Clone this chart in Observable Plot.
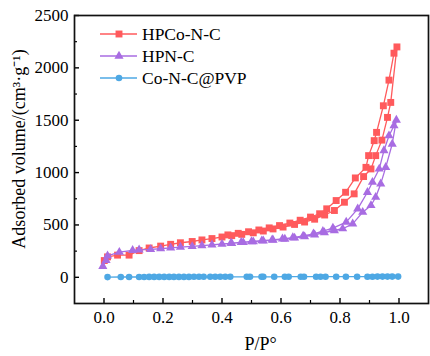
<!DOCTYPE html>
<html>
<head>
<meta charset="utf-8">
<script src="https://cdn.jsdelivr.net/npm/d3@7"></script>
<script src="https://cdn.jsdelivr.net/npm/@observablehq/plot@0.6"></script>
<style>
  html, body { margin: 0; padding: 0; background: #fff; }
  #chart { width: 430px; height: 356px; }
</style>
</head>
<body>
<div id="chart"></div>
<script>
// ---- Data ----
const seriesNames = ["HPCo-N-C", "HPN-C", "Co-N-C@PVP"];
const seriesColors = ["#ff5a5c", "#a86ce2", "#4ea8e4"];
const seriesSymbols = ["square", "triangle", "circle"];

// HPCo-N-C adsorption (ascending) and desorption (descending)
const redAdsX = [0.001,0.012,0.046,0.085,0.119,0.153,0.192,0.226,0.259,0.299,0.332,0.366,0.400,0.433,0.467,0.506,0.540,0.573,0.607,0.646,0.680,0.714,0.748,0.781,0.815,0.848,0.880,0.905,0.921,0.942,0.961,0.972,0.993];
const redAdsY = [160,195,212,212,255,280,298,315,330,342,357,370,385,398,410,425,442,462,480,505,528,555,595,638,717,797,962,1035,1162,1310,1527,1670,2200];
const redDesX = [0.983,0.966,0.947,0.924,0.916,0.897,0.888,0.852,0.819,0.787,0.755,0.731,0.700,0.665,0.630,0.595,0.560,0.525,0.490,0.455,0.420];
const redDesY = [2140,1883,1638,1384,1305,1162,1050,949,812,733,654,607,575,545,518,494,472,452,435,420,405];

// HPN-C adsorption and desorption
const purAdsX = [-0.004,0.007,0.012,0.052,0.097,0.119,0.158,0.192,0.226,0.259,0.299,0.332,0.366,0.400,0.433,0.472,0.506,0.540,0.573,0.613,0.646,0.680,0.714,0.747,0.781,0.809,0.843,0.877,0.905,0.921,0.938,0.955,0.977,0.991];
const purAdsY = [105,162,205,240,258,262,266,273,281,288,295,303,310,318,325,333,340,348,356,365,376,388,405,428,447,464,511,622,686,765,892,1050,1273,1502];
const purDesX = [0.983,0.966,0.949,0.933,0.910,0.893,0.860,0.821,0.776,0.742,0.710,0.675,0.640,0.605,0.570,0.535,0.500,0.465,0.430];
const purDesY = [1448,1352,1210,1035,908,812,654,527,470,440,415,395,380,368,358,350,342,334,326];

// Co-N-C@PVP
const bluX = [0.012,0.057,0.085,0.119,0.136,0.153,0.170,0.187,0.204,0.221,0.237,0.254,0.271,0.288,0.305,0.322,0.338,0.360,0.377,0.394,0.411,0.428,0.484,0.495,0.534,0.540,0.577,0.613,0.626,0.667,0.678,0.719,0.734,0.751,0.787,0.820,0.858,0.893,0.910,0.927,0.944,0.961,0.977,0.997];
const bluY = [2,3,3,3,3,4,4,4,4,4,4,4,4,4,5,5,5,5,5,5,5,5,5,5,5,5,5,6,6,6,6,6,6,6,6,6,6,6,6,7,7,7,7,7];

// Axis ticks
const xTicks = [0.0, 0.2, 0.4, 0.6, 0.8, 1.0];
const xMinor = [0.1, 0.3, 0.5, 0.7, 0.9];
const yTicks = [0, 500, 1000, 1500, 2000, 2500];
const yMinor = [250, 750, 1250, 1750, 2250];
const xLabel = "P/P°";
const yLabel = "Adsorbed volume/(cm³·g⁻¹)";

// ---- Build rows ----
function rowsOf(name, xs, ys, xs2, ys2) {
  const r = xs.map((x, i) => ({series: name, x, y: ys[i]}));
  if (xs2) xs2.forEach((x, i) => r.push({series: name, x, y: ys2[i]}));
  return r;
}
const red = rowsOf(seriesNames[0], redAdsX, redAdsY, redDesX, redDesY);
const pur = rowsOf(seriesNames[1], purAdsX, purAdsY, purDesX, purDesY);
const blu = rowsOf(seriesNames[2], bluX, bluY);

const FONT = '"Liberation Serif", "Times New Roman", serif';

function seriesMarks(data, i, r) {
  return [
    Plot.line(data, {x: "x", y: "y", stroke: seriesColors[i], strokeWidth: 1.3}),
    Plot.dot(data, {x: "x", y: "y", symbol: () => seriesSymbols[i], fill: seriesColors[i], stroke: "none", r})
  ];
}

const chart = Plot.plot({
  width: 430,
  height: 356,
  marginLeft: 74,
  marginRight: 2,
  marginTop: 15,
  marginBottom: 53,
  style: {fontFamily: FONT, background: "#fff", color: "#000", overflow: "visible"},
  x: {domain: [-0.1, 1.1]},
  y: {domain: [-250, 2500]},
  marks: [
    ...seriesMarks(red, 0, 3.9),
    ...seriesMarks(pur, 1, 3.4),
    ...seriesMarks(blu, 2, 3.3),
    Plot.axisX(xTicks, {tickSize: -5, tickPadding: 12.5, tickFormat: d3.format(".1f"), fontSize: 17, label: null, strokeWidth: 1.4}),
    Plot.axisX(xMinor, {tickSize: -3, tickFormat: () => "", label: null, strokeWidth: 1.2}),
    Plot.axisY(yTicks, {tickSize: -5, tickPadding: 11, tickFormat: d => String(d), fontSize: 17, label: null, strokeWidth: 1.4}),
    Plot.axisY(yMinor, {tickSize: -3, tickFormat: () => "", label: null, strokeWidth: 1.2}),
    Plot.frame({stroke: "#111", strokeWidth: 1.7}),
    Plot.text([yLabel], {frameAnchor: "left", rotate: -90, dx: -55, dy: -10.5, textAnchor: "middle", lineAnchor: "middle", fontSize: 18, fill: "#000"}),
    Plot.text([xLabel], {frameAnchor: "bottom", dx: 9, dy: 41, textAnchor: "middle", lineAnchor: "middle", fontSize: 18, fill: "#000"})
  ]
});

document.getElementById("chart").appendChild(chart);

// ---- Legend inside the frame (top-left) ----
const svg = d3.select(chart.tagName.toLowerCase() === "svg" ? chart : chart.querySelector("svg"));
const lg = svg.append("g").attr("font-family", FONT).attr("font-size", 17.5).attr("text-anchor", "start");
const symMap = {square: d3.symbolSquare, triangle: d3.symbolTriangle, circle: d3.symbolCircle};
const sizes = [Math.PI * 3.9 * 3.9, Math.PI * 3.4 * 3.4, Math.PI * 3.3 * 3.3];
seriesNames.forEach((name, i) => {
  const y = 34 + i * 22;
  lg.append("line").attr("x1", 100).attr("x2", 137).attr("y1", y).attr("y2", y)
    .attr("stroke", seriesColors[i]).attr("stroke-width", 1.3);
  lg.append("path").attr("d", d3.symbol(symMap[seriesSymbols[i]], sizes[i])())
    .attr("transform", `translate(119,${y})`).attr("fill", seriesColors[i]);
  lg.append("text").attr("x", 142).attr("y", y).attr("dy", "0.35em")
    .attr("text-anchor", "start").attr("fill", "#000").text(name);
});
</script>
</body>
</html>
